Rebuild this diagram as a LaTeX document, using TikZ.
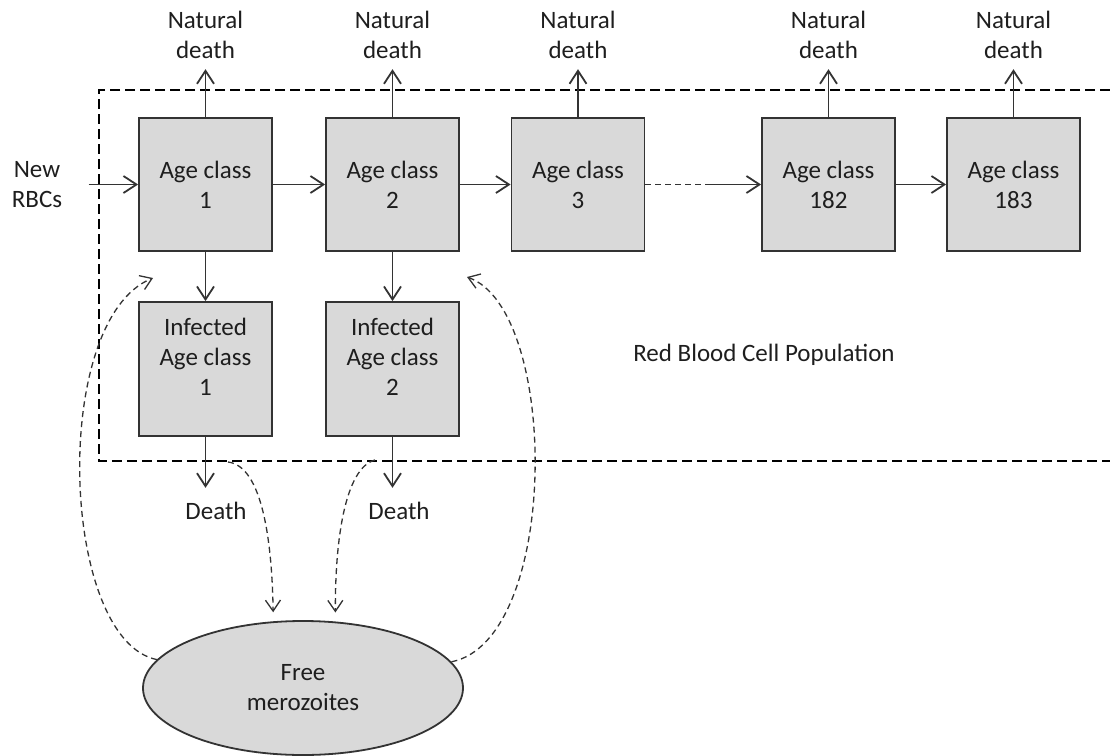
\documentclass[tikz,border=0pt]{standalone}
\usepackage{fontspec}
\setmainfont{Carlito}
\usetikzlibrary{arrows.meta,shapes.geometric}

\begin{document}
\begin{tikzpicture}[x=0.5pt, y=-0.5pt, font=\fontsize{12.5}{15}\selectfont]

% Colori
\definecolor{boxGray}{HTML}{D9D9D9}
\definecolor{lineDark}{HTML}{333333}
\definecolor{txtDark}{HTML}{1E1E1E}

% Stili
\tikzset{
  box/.style={draw=lineDark, fill=boxGray, line width=0.9pt, text=txtDark,
    minimum width=66.5pt, minimum height=66.5pt, inner sep=0pt, align=center},
  lbl/.style={text=txtDark, align=center, inner sep=5pt},
  flow/.style={draw=lineDark, line width=0.9pt, -{Straight Barb[length=6.5pt,width=8.5pt]}},
  infl/.style={draw=lineDark, line width=0.65pt, dash pattern=on 3pt off 2pt,
    -{Straight Barb[length=5.5pt,width=7.5pt]}},
  popbox/.style={draw=black, line width=1.4pt, dash pattern=on 5pt off 2.5pt}
}

\useasboundingbox (0,0) rectangle (1110,756);

% Popolazione di globuli rossi (riquadro tratteggiato)
\draw[popbox] (1110,90) -- (99,90) -- (99,461) -- (1110,461);
\node[lbl] (pop) at (764,355) {Red Blood Cell Population};

% Classi di eta'
\node[box] (a1) at (205.5,184.5) {Age class\\1};
\node[box] (a2) at (392.5,184.5) {Age class\\2};
\node[box] (a3) at (578,184.5) {Age class\\3};
\node[box] (a182) at (828.5,184.5) {Age class\\182};
\node[box] (a183) at (1013.5,184.5) {Age class\\183};

% Classi infette
\node[box, minimum height=67pt, text depth=12pt] (i1) at (205.5,369) {Infected\\Age class\\1};
\node[box, minimum height=67pt, text depth=12pt] (i2) at (392.5,369) {Infected\\Age class\\2};

% Merozoiti liberi
\node[ellipse, draw=lineDark, fill=boxGray, line width=0.9pt, text=txtDark,
  minimum width=160pt, minimum height=67pt, inner sep=0pt, align=center]
  (mero) at (303,688) {Free\\merozoites};

% Etichette esterne
\node[lbl, inner xsep=13pt] (rbc) at (37,184.5) {New\\RBCs};
\node[lbl] (nd1) at (205.5,35) {Natural\\death};
\node[lbl] (nd2) at (392.5,35) {Natural\\death};
\node[lbl] (nd3) at (578,35) {Natural\\death};
\node[lbl] (nd182) at (828.5,35) {Natural\\death};
\node[lbl] (nd183) at (1013.5,35) {Natural\\death};
\node[lbl, inner sep=7pt] (d1) at (216,511) {Death};
\node[lbl, inner sep=7pt] (d2) at (399,511) {Death};

% Invecchiamento
\draw[flow] (rbc) -- (a1);
\draw[flow] (a1) -- (a2);
\draw[flow] (a2) -- (a3);
\draw[draw=lineDark, line width=0.9pt, dash pattern=on 3pt off 2pt]
  (a3.east) -- ++(64,0) coordinate (gap);
\draw[flow] (gap) -- (a182.west);
\draw[flow] (a182) -- (a183);

% Morte naturale
\draw[flow] (a1) -- (nd1);
\draw[flow] (a2) -- (nd2);
\draw[flow] (a3) -- (nd3);
\draw[flow] (a182) -- (nd182);
\draw[flow] (a183) -- (nd183);

% Infezione e morte delle cellule infette
\draw[flow] (a1) -- (i1);
\draw[flow] (a2) -- (i2);
\draw[flow] (i1.south) -- (i1.south |- d1.north);
\draw[flow] (i2.south) -- (i2.south |- d2.north);

% Rilascio e reinvasione dei merozoiti
\coordinate (m1) at (228,462);
\coordinate (m2) at (375,460);
\coordinate (r1) at (153,278);
\coordinate (r2) at (467,277);
\draw[infl, shorten >=4.5pt] (m1) .. controls (262,466) and (272,540) .. (mero.114);
\draw[infl, shorten >=4.5pt] (m2) .. controls (345,468) and (335,540) .. (mero.64);
\draw[infl] (mero.169) .. controls (60,640) and (50,320) .. (r1);
\draw[infl] (mero.10) .. controls (560,640) and (560,310) .. (r2);

\end{tikzpicture}
\end{document}
